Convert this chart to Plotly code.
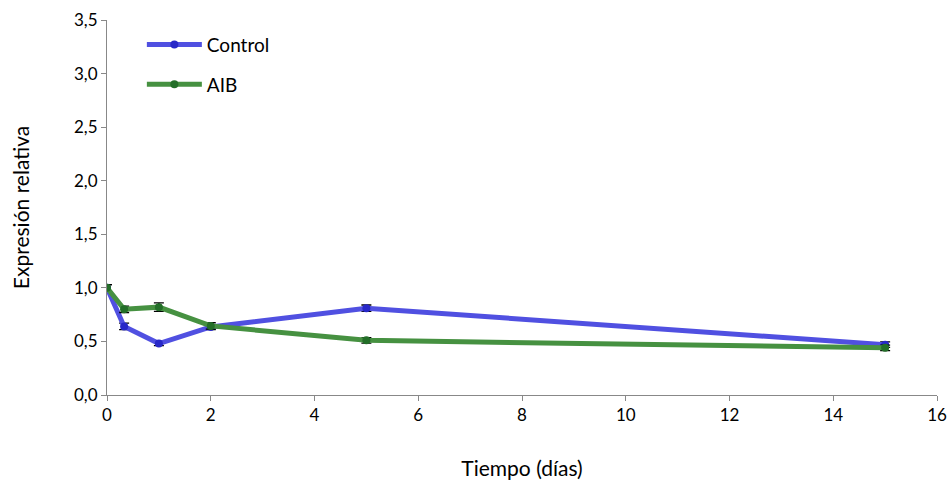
import plotly.graph_objects as go

days = [0, 0.33, 1, 2, 5, 15]
control = [1.0, 0.64, 0.48, 0.635, 0.81, 0.47]
control_err = [0.03, 0.03, 0.02, 0.025, 0.03, 0.025]
aib = [1.0, 0.80, 0.82, 0.645, 0.51, 0.44]
aib_err = [0.03, 0.03, 0.04, 0.03, 0.025, 0.025]

x_ticks = [0, 2, 4, 6, 8, 10, 12, 14, 16]
y_ticks = [0.0, 0.5, 1.0, 1.5, 2.0, 2.5, 3.0, 3.5]
y_tick_labels = ["0,0", "0,5", "1,0", "1,5", "2,0", "2,5", "3,0", "3,5"]

FONT = "Lato, Liberation Sans, sans-serif"

fig = go.Figure()
fig.add_trace(go.Scatter(
    x=days, y=control, name="Control", mode="lines+markers", legendgroup="c",
    line=dict(color="rgb(80,80,225)", width=5),
    marker=dict(color="rgb(40,40,200)", size=8),
    error_y=dict(type="data", array=control_err, color="black", thickness=1.3, width=5),
))
fig.add_trace(go.Scatter(
    x=days, y=aib, name="AIB", mode="lines+markers", legendgroup="a",
    line=dict(color="rgb(70,145,65)", width=5),
    marker=dict(color="rgb(35,110,40)", size=8),
    error_y=dict(type="data", array=aib_err, color="black", thickness=1.3, width=5),
))

fig.update_layout(
    width=950, height=481,
    margin=dict(l=107, r=13, t=20, b=86),
    paper_bgcolor="white", plot_bgcolor="white",
    font=dict(family=FONT, size=17, color="black"),
    showlegend=True,
    legend=dict(x=0.042, y=0.985, xanchor="left", yanchor="top",
                font=dict(size=19), bgcolor="rgba(0,0,0,0)", tracegroupgap=12,
                itemwidth=55),
    xaxis=dict(range=[0, 16], tickvals=x_ticks, showgrid=False, zeroline=False,
               showline=True, linecolor="#888", linewidth=1, automargin=False,
               ticks="outside", ticklen=5, tickcolor="#888",
               title=dict(text="Tiempo (días)", font=dict(size=21), standoff=36)),
    yaxis=dict(range=[0, 3.5], tickvals=y_ticks, ticktext=y_tick_labels,
               showgrid=False, zeroline=False, automargin=False,
               showline=True, linecolor="#888", linewidth=1,
               ticks="outside", ticklen=5, tickcolor="#888",
               title=dict(text="Expresión relativa", font=dict(size=21), standoff=38)),
)

fig.write_html("out.html")
